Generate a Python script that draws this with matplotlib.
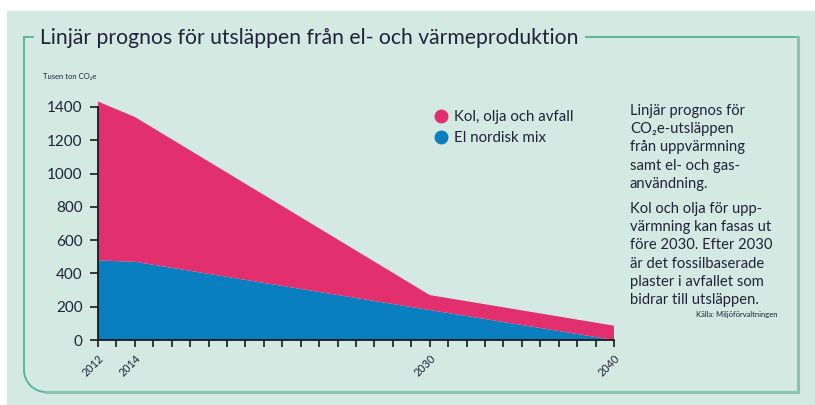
import matplotlib.pyplot as plt
from matplotlib.lines import Line2D
from matplotlib.patches import Arc, Rectangle

# data (tusen ton CO2e)
years = [2012, 2014, 2030, 2040]
el_nordisk_mix = [478, 470, 180, 0]
kol_olja_avfall = [955, 870, 90, 86]
series_labels = ["Kol, olja och avfall", "El nordisk mix"]

y_ticks = [0, 200, 400, 600, 800, 1000, 1200, 1400]
all_years = list(range(2012, 2041))
labelled_years = [2012, 2014, 2030, 2040]

pink = "#e2306f"
blue = "#0a7fc0"
mint = "#d3e9e2"
frame_col = "#5bb59a"
ink = "#22223a"

plt.rcParams['font.family'] = ['Lato', 'DejaVu Sans']

W, H = 815, 405
fig = plt.figure(figsize=(8.15, 4.05), dpi=100)

# background axes in pixel coordinates
bg = fig.add_axes([0, 0, 1, 1])
bg.set_xlim(0, W)
bg.set_ylim(H, 0)
bg.axis('off')
bg.add_patch(Rectangle((7, 11), W, H, color=mint, zorder=0))

# frame round the chart
bg.plot([24, 33], [37, 37], color=frame_col, lw=1.4)
bg.plot([586, 798], [37, 37], color=frame_col, lw=1.4)
bg.plot([798, 798], [37, 392], color="#88c5b1", lw=2.2)
bg.plot([46, 798], [392, 392], color="#88c5b1", lw=2.2)
bg.plot([24, 24], [37, 370], color=frame_col, lw=1.4)
bg.add_patch(Arc((46, 370), 44, 44, theta1=90, theta2=180, color=frame_col, lw=1.4))

bg.text(40, 38, "Linjär prognos för utsläppen från el- och värmeproduktion",
        fontsize=15.2, color=ink, va='center', ha='left')
bg.text(43, 76, "Tusen ton CO₂e", fontsize=5.5, color=ink, va='center')

bg.text(630, 104, "Linjär prognos för\nCO₂e-utsläppen\nfrån uppvärmning\nsamt el- och gas-\nanvändning.",
        fontsize=10.6, color=ink, va='top', linespacing=1.38)
bg.text(630, 202, "Kol och olja för upp-\nvärmning kan fasas ut\nföre 2030. Efter 2030\när det fossilbaserade\nplaster i avfallet som\nbidrar till utsläppen.",
        fontsize=10.6, color=ink, va='top', linespacing=1.38)
bg.text(777, 315, "Källa: Miljöförvaltningen", fontsize=5.5, color=ink, ha='right', va='center')

# main chart
ax = fig.add_axes([98 / W, 65 / H, 516 / W, 233 / H])
ax.patch.set_visible(False)
polys = ax.stackplot(years, el_nordisk_mix, kol_olja_avfall, colors=[blue, pink], lw=0)
for p in polys:
    p.set_clip_on(False)

ax.set_xlim(2012, 2040)
ax.set_ylim(0, 1400)
for s in ['top', 'right']:
    ax.spines[s].set_visible(False)
for s in ['left', 'bottom']:
    ax.spines[s].set_color('#1a1a1a')
    ax.spines[s].set_linewidth(1.3)
    ax.spines[s].set_zorder(5)

ax.set_yticks(y_ticks)
ax.set_yticklabels([str(v) for v in y_ticks])
ax.set_xticks(all_years)
ax.set_xticklabels([str(y) if y in labelled_years else "" for y in all_years],
                   rotation=45, ha='right', va='top', rotation_mode='anchor')
ax.tick_params(axis='y', length=6, width=1.2, pad=5, labelsize=11, colors='#1a1a1a', labelcolor=ink)
ax.tick_params(axis='x', length=5, width=1.2, pad=4, labelsize=7.8, colors='#1a1a1a', labelcolor=ink)

handles = [Line2D([], [], marker='o', ls='', color=pink, markersize=9),
           Line2D([], [], marker='o', ls='', color=blue, markersize=9)]
ax.legend(handles, series_labels, loc='upper left', bbox_to_anchor=(418 / W, 1 - 97 / H),
          bbox_transform=fig.transFigure, frameon=False, fontsize=10.8,
          handletextpad=0.3, labelspacing=0.45, handlelength=1.2, labelcolor=ink)

fig.savefig("out.png", dpi=100)
